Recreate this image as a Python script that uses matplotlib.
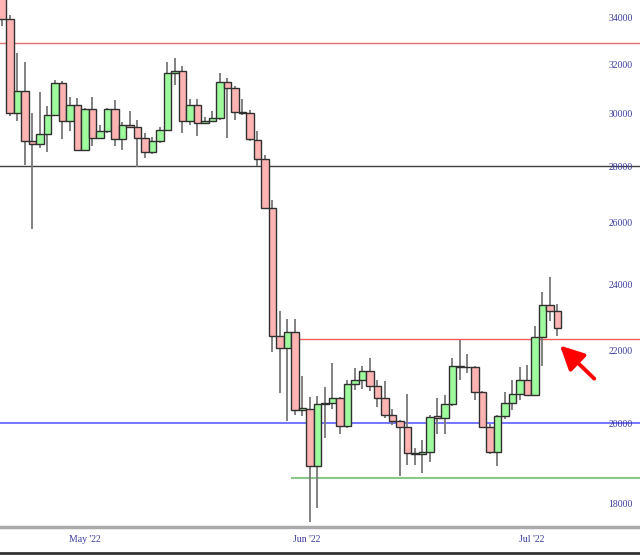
import numpy as np
import matplotlib
matplotlib.use('Agg')
import matplotlib.pyplot as plt
from matplotlib.lines import Line2D
from matplotlib.ticker import NullLocator, NullFormatter

# daily candles
opens = [35400, 34000, 30050, 30960, 28970, 28880, 29250, 30000, 31280, 29740,
         30370, 28640, 30220, 29090, 29350, 30220, 29040, 29610, 29520, 29110,
         28570, 28970, 29420, 31680, 31750, 29770, 30370, 29680, 29740, 29850,
         31320, 31070, 30120, 30050, 29020, 28320, 26560, 22450, 22110, 22570,
         20380, 20420, 18950, 20540, 20560, 20690, 19960, 21080, 21210, 21450,
         21030, 20710, 20250, 20090, 19920, 19260, 19240, 19300, 20220, 20160,
         20540, 21580, 21570, 21550, 20860, 19940, 19300, 20210, 20560, 20800,
         21190, 20780, 22420, 23370, 23190]
highs = [35500, 34180, 32540, 32160, 30050, 30920, 30330, 31400, 31330, 30700,
         30650, 30250, 30690, 29610, 30280, 30590, 29700, 30140, 29800, 29300,
         29140, 29530, 32140, 32300, 31960, 30630, 30630, 29900, 30130, 31700,
         31470, 31150, 30630, 30200, 29350, 28440, 26830, 23200, 22970, 22950,
         21310, 20740, 20770, 21010, 21680, 20720, 21190, 21520, 21580, 21830,
         21190, 21160, 20400, 20120, 20800, 19390, 19600, 20250, 20710, 20780,
         21820, 22350, 21940, 21600, 20900, 20000, 20250, 20880, 21190, 21560,
         21610, 22740, 23780, 24250, 23400]
lows = [33700, 29950, 29770, 28100, 25820, 28700, 28570, 29950, 29070, 29370,
        28600, 28600, 28800, 29050, 29300, 28800, 28660, 29500, 28030, 28340,
        28500, 28900, 29350, 31190, 29290, 29580, 29160, 29650, 29700, 29800,
        29110, 29800, 30000, 29000, 28050, 26500, 21990, 20830, 20090, 20250,
        20230, 17610, 17930, 19640, 20400, 19760, 19900, 20920, 20940, 20890,
        20470, 20160, 19990, 18690, 18970, 18970, 18760, 19050, 19740, 19760,
        20500, 21190, 21380, 20650, 19900, 19250, 18930, 20150, 20380, 20650,
        20750, 20750, 21590, 22890, 22440]
closes = [34000, 30050, 30960, 28970, 28880, 29250, 30000, 31280, 29740, 30370,
          28640, 30220, 29090, 29350, 30220, 29040, 29610, 29520, 29110, 28570,
          28970, 29420, 31680, 31750, 29770, 30370, 29680, 29740, 29850, 31320,
          31070, 30120, 30050, 29040, 28320, 26560, 22450, 22110, 22570, 20380,
          20440, 18950, 20540, 20560, 20690, 19960, 21080, 21210, 21450, 21030,
          20710, 20250, 20090, 19920, 19260, 19240, 19300, 20200, 20160, 20540,
          21580, 21570, 21550, 20860, 19940, 19300, 20210, 20560, 20800, 21190,
          20780, 22420, 23370, 23210, 22680]

price_ticks = [18000, 20000, 22000, 24000, 26000, 28000, 30000, 32000, 34000]
month_pos = [11.0, 40.6, 70.6]
month_labels = ["May '22", "Jun '22", "Jul '22"]

# drawn levels: (price, start index, colour, width)
levels = [(32950, -1, '#e07070', 1.0),
          (28050, -1, '#404040', 1.0),
          (22375, 37.0, '#ff5a5a', 1.0),
          (20030, -1, '#6a6aff', 1.3),
          (18640, 38.5, '#88c888', 1.5)]


def draw_chart():
    o = np.array(opens)
    h = np.array(highs)
    l = np.array(lows)
    c = np.array(closes)
    x = np.arange(len(o))

    fig = plt.figure(figsize=(6.4, 5.55), dpi=100)
    ax = fig.add_axes([0, 28 / 555, 1, 527 / 555])
    ax.set_yscale('log')

    for price, start, col, lw in levels:
        ax.hlines(price, start, 90, colors=col, linewidth=lw, zorder=1)

    ax.vlines(x, l, h, colors='#777777', linewidth=1.3, zorder=2)

    up = c >= o
    cols = np.where(up, '#9dfa9d', '#ffb4b4')
    bottom = np.minimum(o, c)
    height = np.abs(c - o)
    ax.bar(x, height, width=1.0, bottom=bottom, color=cols,
           edgecolor='#303030', linewidth=1.0, zorder=3)

    ax.annotate('', xy=(74.1, 22230), xytext=(79.2, 21180),
                arrowprops=dict(arrowstyle='-|>,head_length=0.9,head_width=0.45',
                                color='#ff0000', lw=2.8, mutation_scale=16),
                zorder=5)

    ax.set_xlim(-0.3, 85.03)
    ax.set_ylim(17487, 34856)

    ax.yaxis.set_major_locator(NullLocator())
    ax.yaxis.set_minor_locator(NullLocator())
    ax.yaxis.set_minor_formatter(NullFormatter())
    trans = ax.get_yaxis_transform()
    for p in price_ticks:
        ax.text(0.989, p, str(p), transform=trans, ha='right', va='center',
                fontsize=7, color='#3c3ca0', family='Liberation Serif', zorder=4)

    ax.set_xticks(month_pos)
    ax.set_xticklabels(month_labels, fontsize=7, color='#3c3ca0',
                       family='Liberation Serif')
    ax.tick_params(axis='x', length=0, pad=6)

    for s in ['top', 'left', 'right']:
        ax.spines[s].set_visible(False)
    ax.spines['bottom'].set_color('#aaaaaa')
    ax.spines['bottom'].set_linewidth(2.5)

    fig.add_artist(Line2D([0, 1], [2.5 / 555, 2.5 / 555], transform=fig.transFigure,
                          color='#333333', linewidth=2))

    fig.savefig('out.png', dpi=100)


draw_chart()
